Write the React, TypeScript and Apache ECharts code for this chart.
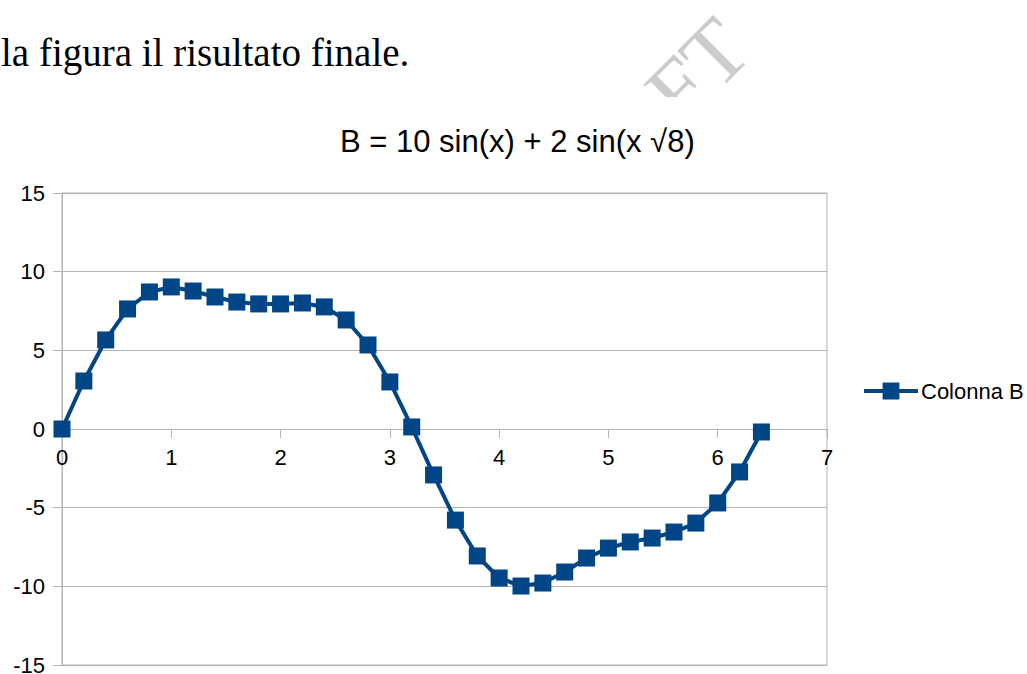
import React, { useEffect, useRef } from "react";
import * as echarts from "echarts";

const xValues = [0, 0.2, 0.4, 0.6, 0.8, 1.0, 1.2, 1.4, 1.6, 1.8, 2.0, 2.2, 2.4, 2.6, 2.8, 3.0, 3.2, 3.4, 3.6, 3.8, 4.0, 4.2, 4.4, 4.6, 4.8, 5.0, 5.2, 5.4, 5.6, 5.8, 6.0, 6.2, 6.4];
const bValues = [0, 3.05, 5.66, 7.63, 8.71, 9.03, 8.77, 8.39, 8.07, 7.95, 7.95, 8.01, 7.76, 6.93, 5.34, 2.99, 0.13, -2.92, -5.79, -8.07, -9.47, -9.98, -9.79, -9.09, -8.2, -7.57, -7.18, -6.93, -6.55, -5.98, -4.7, -2.73, -0.19];
const seriesName = "Colonna B";
const chartTitle = "B = 10 sin(x) + 2 sin(x \u221A8)";
const pageText = "la figura il risultato finale.";
const watermarkText = "FT";

const GRID_TOP = 193;
const GRID_BOTTOM = 9;
const CHART_H = 674;
const Y_MIN = -15;
const Y_MAX = 15;

export default function App() {
  const ref = useRef<HTMLDivElement>(null);
  useEffect(() => {
    if (!ref.current) return;
    const chart = echarts.init(ref.current, null, { renderer: "svg" });
    const data = xValues.map((x, i) => [x, bValues[i]]);
    const plotH = CHART_H - GRID_TOP - GRID_BOTTOM;
    // move the x axis from the bottom of the grid up to y = 0
    const zeroOffset = -(plotH * (0 - Y_MIN)) / (Y_MAX - Y_MIN);
    chart.setOption({
      animation: false,
      backgroundColor: "#ffffff",
      title: {
        text: chartTitle,
        left: 340,
        top: 126,
        padding: 0,
        textStyle: { fontFamily: "Liberation Sans", fontSize: 31, fontWeight: "normal", color: "#000" },
      },
      legend: {
        data: [seriesName],
        left: 862,
        top: 380,
        padding: 0,
        itemWidth: 54,
        itemHeight: 21,
        itemGap: 5,
        lineStyle: { width: 4 },
        textStyle: { fontFamily: "Liberation Sans", fontSize: 22, color: "#000", padding: [0, 0, 0, -2] },
      },
      grid: {
        left: 62,
        right: 200,
        top: GRID_TOP,
        bottom: GRID_BOTTOM,
        show: true,
        borderColor: "#b3b3b3",
        borderWidth: 1,
        containLabel: false,
        outerBoundsMode: "none",
      },
      xAxis: {
        type: "value",
        position: "bottom",
        offset: zeroOffset,
        min: 0,
        max: 7,
        interval: 1,
        axisLine: { show: true, onZero: false, lineStyle: { color: "#b3b3b3", width: 1 } },
        axisTick: { show: true, inside: false, length: 9, lineStyle: { color: "#b3b3b3" } },
        axisLabel: { margin: 17, fontFamily: "Liberation Sans", fontSize: 22, color: "#000" },
        splitLine: { show: false },
      },
      yAxis: {
        type: "value",
        min: Y_MIN,
        max: Y_MAX,
        interval: 5,
        axisLine: { show: true, onZero: false, lineStyle: { color: "#b3b3b3", width: 1 } },
        axisTick: { show: true, inside: false, length: 9, lineStyle: { color: "#b3b3b3" } },
        axisLabel: { margin: 17, fontFamily: "Liberation Sans", fontSize: 22, color: "#000" },
        splitLine: { show: true, lineStyle: { color: "#b3b3b3", width: 1 } },
      },
      series: [
        {
          name: seriesName,
          type: "line",
          data,
          symbol: "rect",
          symbolSize: 17,
          showAllSymbol: true,
          z: 5,
          itemStyle: { color: "#004586" },
          lineStyle: { color: "#004586", width: 4 },
        },
      ],
      graphic: [
        {
          type: "text",
          x: 765,
          y: 65,
          rotation: Math.PI / 4,
          z: 0,
          style: {
            text: watermarkText,
            font: "88px 'Liberation Serif'",
            fill: "#cccccc",
            align: "right",
            verticalAlign: "bottom",
          },
        },
        {
          type: "rect",
          z: 1,
          shape: { x: 560, y: 97, width: 220, height: 28 },
          style: { fill: "#ffffff" },
        },
        {
          type: "text",
          x: 1,
          y: 52,
          z: 2,
          style: {
            text: pageText,
            font: "39px 'Liberation Serif'",
            fill: "#000",
            align: "left",
            verticalAlign: "middle",
          },
        },
      ],
    });
    return () => chart.dispose();
  }, []);
  return (
    <div
      ref={ref}
      style={{ position: "fixed", left: 0, top: 0, width: 1027, height: 674, background: "#fff" }}
    />
  );
}
